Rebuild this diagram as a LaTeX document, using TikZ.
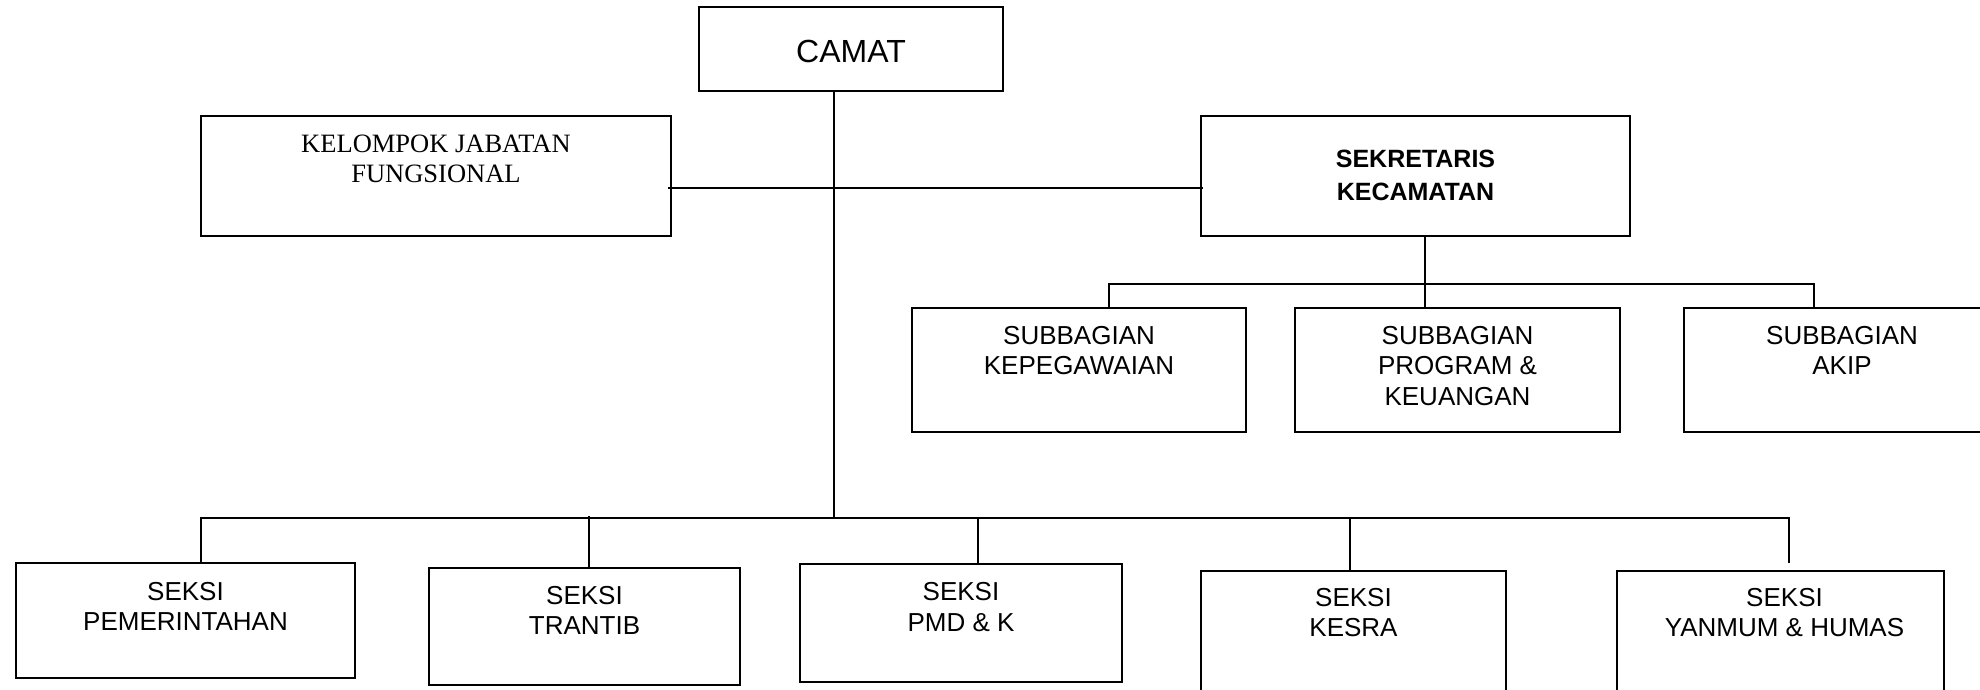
\documentclass[tikz,border=0pt]{standalone}
\usepackage{fontspec}
\setmainfont{Liberation Sans}
\newfontfamily\timesf{Liberation Serif}
\begin{document}
\begin{tikzpicture}[x=1pt,y=-1pt,
  box/.style={draw=black, line width=2pt, inner sep=0pt, outer sep=0pt, anchor=north west},
  conn/.style={draw=black, line width=1.7pt},
  txt/.style={inner sep=0pt, align=center, anchor=base, font=\fontsize{26}{30.5}\selectfont},
  serif/.style={inner sep=0pt, align=center, anchor=base, font=\timesf\fontsize{26.5}{30}\selectfont},
  boldtxt/.style={inner sep=0pt, align=center, anchor=base, font=\bfseries\fontsize{25}{33}\selectfont},
  bigtxt/.style={inner sep=0pt, align=center, anchor=base, font=\fontsize{32}{36}\selectfont}]
\useasboundingbox (0,0) rectangle (1980,689);
\clip (0,0) rectangle (1980,689);
% boxes
\node[box, minimum width=304pt, minimum height=84pt] (camat) at (699,7) {};
\node[box, minimum width=470pt, minimum height=120pt] (kjf) at (201,116) {};
\node[box, minimum width=429pt, minimum height=120pt] (sek) at (1201,116) {};
\node[box, minimum width=334pt, minimum height=124pt] (kepeg) at (912,308) {};
\node[box, minimum width=325pt, minimum height=124pt] (prog) at (1295,308) {};
\node[box, minimum width=316pt, minimum height=124pt] (akip) at (1684,308) {};
\node[box, minimum width=339pt, minimum height=115pt] (pem) at (16,563) {};
\node[box, minimum width=311pt, minimum height=117pt] (trantib) at (429,568) {};
\node[box, minimum width=322pt, minimum height=118pt] (pmd) at (800,564) {};
\node[box, minimum width=305pt, minimum height=140pt] (kesra) at (1201,571) {};
\node[box, minimum width=327pt, minimum height=140pt] (yanmum) at (1617,571) {};
% texts (anchor=base is the baseline of the last line)
\node[bigtxt] (camatT) at ([yshift=-55pt]camat.north) {CAMAT};
\node[serif] (kjfT) at ([yshift=-66pt]kjf.north) {KELOMPOK JABATAN\\FUNGSIONAL};
\node[boldtxt] (sekT) at ([yshift=-84pt]sek.north) {SEKRETARIS\\KECAMATAN};
\node[txt] (kepegT) at ([yshift=-66.5pt]kepeg.north) {SUBBAGIAN\\KEPEGAWAIAN};
\node[txt] (progT) at ([yshift=-97pt]prog.north) {SUBBAGIAN\\PROGRAM \&\\KEUANGAN};
\node[txt] (akipT) at ([yshift=-66.5pt]akip.north) {SUBBAGIAN\\AKIP};
\node[txt] (pemT) at ([yshift=-67.5pt]pem.north) {SEKSI\\PEMERINTAHAN};
\node[txt] (trantibT) at ([yshift=-66.5pt]trantib.north) {SEKSI\\TRANTIB};
\node[txt] (pmdT) at ([yshift=-67pt]pmd.north) {SEKSI\\PMD \& K};
\node[txt] (kesraT) at ([yshift=-65.5pt]kesra.north) {SEKSI\\KESRA};
\node[txt] (yanmumT) at ([xshift=4pt,yshift=-65.5pt]yanmum.north) {SEKSI\\YANMUM \& HUMAS};
% connector coordinates
\coordinate (spine) at (834,518);
\coordinate (mid) at (834,188);
\coordinate (secx) at (1425,284);
\coordinate (subL) at (1109,284);
\coordinate (subR) at (1814,284);
\coordinate (busL) at (201,518);
\coordinate (busR) at (1789,518);
\coordinate (trx) at (589,516);
\coordinate (pmdx) at (978,518);
\coordinate (kesx) at (1350,518);
\coordinate (yanEnd) at (1789,563);
% connectors
\draw[conn] (camat.south -| spine) -- (spine);
\draw[conn] ([xshift=-3pt]kjf.east |- mid) -- ([xshift=2pt]sek.west |- mid);
\draw[conn] (sek.south -| secx) -- (prog.north -| secx);
\draw[conn] (kepeg.north -| subL) -- (subL) -- (subR) -- (akip.north -| subR);
\draw[conn] (pem.north -| busL) -- (busL) -- (busR) -- (yanEnd);
\draw[conn] (trx) -- (trantib.north -| trx);
\draw[conn] (pmdx) -- (pmd.north -| pmdx);
\draw[conn] (kesx) -- (kesra.north -| kesx);
\end{tikzpicture}
\end{document}
